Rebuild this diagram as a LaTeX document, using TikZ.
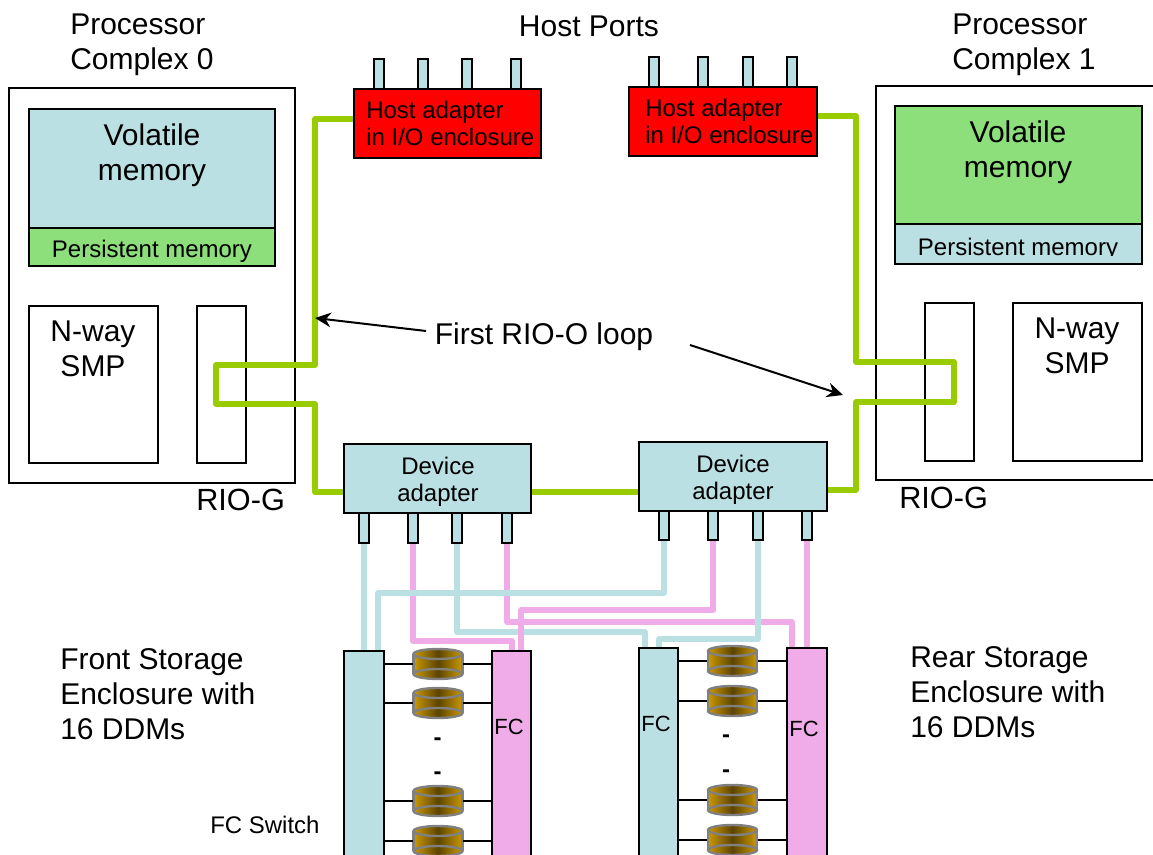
\documentclass[tikz,border=0pt]{standalone}
\usepackage{fontspec}
\setmainfont{Liberation Sans}
\usetikzlibrary{arrows.meta}
\definecolor{palecyan}{HTML}{BBE0E3}
\definecolor{softgreen}{HTML}{8CDF7A}
\definecolor{linkgreen}{HTML}{99CC00}
\definecolor{softpink}{HTML}{F0ACE8}
\definecolor{diskgold}{HTML}{CC9900}
\definecolor{diskdark}{HTML}{5C4400}
\newcommand{\bx}[7][]{%
  \pgfmathsetmacro{\bxw}{(#5-#3)*0.75}\pgfmathsetmacro{\bxh}{(#6-#4)*0.75}%
  \node[boxshape,fill=#7,minimum width=\bxw pt,minimum height=\bxh pt,#1] (#2) at ({(#3+#5)/2},{(#4+#6)/2}) {};}
\newcommand{\disk}[3]{%
  \node[inner sep=0pt,minimum width=37.5pt,minimum height=22.5pt] (#1) at (#2,#3) {};
  \begin{scope}[shift={(#2,#3)}]
    \path[diskshade] (-24.5,-10) -- (24.5,-10) -- (24.5,10) -- (-24.5,10) -- cycle;
    \draw[diskedge] (-24.5,-10) -- (-24.5,10) (24.5,-10) -- (24.5,10);
    \draw[diskedge,diskshade] (0,10) ellipse (24.5 and 5);
    \draw[diskedge,diskshade] (0,-10) ellipse (24.5 and 5);
  \end{scope}}
\tikzset{
  boxshape/.style={draw=black,line width=1.5pt,inner sep=0pt,rectangle},
  link/.style={draw=linkgreen,line width=3.9pt,line join=round},
  cablecyan/.style={draw=palecyan,line width=4pt,line join=round},
  cablepink/.style={draw=softpink,line width=4pt,line join=round},
  diskedge/.style={draw=black!50,line width=1.8pt},
  diskshade/.style={left color=diskgold,right color=diskgold,middle color=diskdark},
  bigtxt/.style={inner sep=0pt,font=\fontsize{22.5}{26.25}\selectfont},
  midtxt/.style={inner sep=0pt,font=\fontsize{18}{20.25}\selectfont},
  smalltxt/.style={inner sep=0pt,font=\fontsize{16.5}{20}\selectfont},
  dashtxt/.style={inner sep=0pt,font=\fontsize{18}{20}\selectfont\bfseries},
  tiedisk/.style={draw=black,line width=1.5pt},
  callout/.style={draw=black,line width=1.5pt,-{Stealth[length=12pt,width=11pt]}},
}
\begin{document}
\begin{tikzpicture}[x=0.75pt,y=-0.75pt]
\useasboundingbox (0,0) rectangle (1153,855);
\clip (0,0) rectangle (1153,855);
% processor complexes
\bx{pc0}{9}{88}{295}{483}{white}
\bx{pc1}{876}{86}{1170}{480}{white}
\bx{vm0}{29}{109}{275}{228}{palecyan}
\bx{pm0}{29}{228}{275}{266}{softgreen}
\bx{vm1}{895}{106}{1142}{224}{softgreen}
\bx{pm1}{895}{224}{1142}{264}{palecyan}
\bx{smp0}{29}{306}{158}{463}{white}
\bx{rio0}{197}{306}{246}{463}{white}
\bx{rio1}{925}{303}{974}{461}{white}
\bx{smp1}{1013}{303}{1142}{461}{white}
% host adapter ports
\bx{hp1}{374}{59}{384}{89}{palecyan}
\bx{hp2}{418}{59}{428}{89}{palecyan}
\bx{hp3}{462}{59}{472}{89}{palecyan}
\bx{hp4}{511}{59}{521}{89}{palecyan}
\bx{hq1}{649}{57}{659}{87}{palecyan}
\bx{hq2}{698}{57}{708}{87}{palecyan}
\bx{hq3}{743}{57}{753}{87}{palecyan}
\bx{hq4}{787}{57}{797}{87}{palecyan}
\bx{ha0}{354}{89}{541}{158}{red}
\bx{ha1}{629}{87}{817}{156}{red}
% device adapters and ports
\bx{da0}{344}{444}{531}{513}{palecyan}
\bx{da1}{639}{442}{827}{511}{palecyan}
\bx{dp1}{359}{513}{369}{543}{palecyan}
\bx{dp2}{408}{513}{418}{543}{palecyan}
\bx{dp3}{452}{513}{462}{543}{palecyan}
\bx{dp4}{502}{513}{512}{543}{palecyan}
\bx{dq1}{659}{511}{669}{540}{palecyan}
\bx{dq2}{708}{511}{718}{540}{palecyan}
\bx{dq3}{753}{511}{763}{540}{palecyan}
\bx{dq4}{802}{511}{812}{540}{palecyan}
% RIO loop
\coordinate (l1) at (315,365);
\coordinate (l2) at (216,404);
\coordinate (l3) at (315,492);
\draw[link] (ha0.west |- 0,119) -| (l1) -| (l2) -| (l3) -- (da0.west |- l3);
\draw[link] (da0.east |- l3) -- (da1.west |- l3);
\coordinate (r1) at (856,362);
\coordinate (r2) at (954,402);
\coordinate (r3) at (856,490);
\draw[link] (ha1.east |- 0,116) -| (r1) -| (r2) -| (r3) -- (da1.east |- r3);
% FC cables
\coordinate (t1) at (364,651);
\coordinate (t2) at (378,651);
\coordinate (t3) at (512,651);
\coordinate (t4) at (521,651);
\coordinate (t5) at (645,648);
\coordinate (t6) at (659,648);
\coordinate (t7) at (792,648);
\coordinate (t8) at (807,648);
\draw[cablecyan] (dp1.south) -- (t1);
\draw[cablepink] (dp2.south) -- ++(0,97) -| (t3);
\draw[cablepink] (dp4.south) -- ++(0,78) -| (t7);
\draw[cablecyan] (dp3.south) -- ++(0,88) -| (t5);
\draw[cablecyan] (dq1.south) -- ++(0,52) -| (t2);
\draw[cablepink] (dq2.south) -- ++(0,69) -| (t4);
\draw[cablecyan] (dq3.south) -- ++(0,98) -| (t6);
\draw[cablepink] (dq4.south) -- (t8);
% storage enclosures
\bx{se0}{344}{651}{384}{880}{palecyan}
\bx{fc0}{492}{651}{531}{880}{softpink}
\bx{se1}{639}{648}{678}{880}{palecyan}
\bx{fc1}{787}{648}{827}{880}{softpink}
% disks
\foreach \d/\yy in {a1/664,a2/703,a3/801,a4/841}{
  \disk{\d}{438}{\yy}
  \draw[tiedisk] (se0.east |- \d.west) -- (\d.west);
  \draw[tiedisk] (\d.east) -- (fc0.west |- \d.east);
}
\foreach \d/\yy in {b1/661,b2/701,b3/800,b4/840}{
  \disk{\d}{732.5}{\yy}
  \draw[tiedisk] (se1.east |- \d.west) -- (\d.west);
  \draw[tiedisk] (\d.east) -- (fc1.west |- \d.east);
}
% labels
\node[bigtxt,align=left,anchor=west] (t_pc0) at (70,45) {Processor\\Complex 0};
\node[bigtxt,align=left,anchor=west] (t_pc1) at (952,45) {Processor\\Complex 1};
\node[bigtxt] (t_hp) at (589,26) {Host Ports};
\node[bigtxt,align=center] (t_vm0) at (152,155) {Volatile\\memory};
\node[bigtxt,align=center] (t_vm1) at (1018,152) {Volatile\\memory};
\node[midtxt] (t_pm0) at (152,251) {Persistent memory};
\begin{scope}
  \clip (895,224) rectangle (1142,256);
  \node[midtxt] (t_pm1) at (1018,249) {Persistent memory};
\end{scope}
\node[bigtxt,align=center] (t_smp0) at (93,349) {N-way\\SMP};
\node[bigtxt,align=center] (t_smp1) at (1077,346) {N-way\\SMP};
\node[midtxt,align=left,anchor=west] (t_ha0) at (366,123) {Host adapter\\in I/O enclosure};
\node[midtxt,align=left,anchor=west] (t_ha1) at (645,121) {Host adapter\\in I/O enclosure};
\node[bigtxt] (t_loop) at (544,337) {First RIO-O loop};
\node[bigtxt,font=\fontsize{23}{27}\selectfont,anchor=west] (t_rio0) at (196,500) {RIO-G};
\node[bigtxt,font=\fontsize{23}{27}\selectfont,anchor=west] (t_rio1) at (899,498) {RIO-G};
\node[midtxt,align=center] (t_da0) at (438,482) {Device\\adapter};
\node[midtxt,align=center] (t_da1) at (733,480) {Device\\adapter};
\node[bigtxt,align=left,anchor=west] (t_fs) at (60,694) {Front Storage\\Enclosure with\\16 DDMs};
\node[bigtxt,align=left,anchor=west] (t_rs) at (910,692) {Rear Storage\\Enclosure with\\16 DDMs};
\node[midtxt,anchor=west] (t_sw) at (210,825) {FC Switch};
\node[smalltxt] (t_fc0) at (509,727) {FC};
\node[smalltxt] (t_fc1) at (656,724) {FC};
\node[smalltxt] (t_fc2) at (804,729) {FC};
\node[dashtxt] (t_d1) at (437.5,742) {-};
\node[dashtxt] (t_d2) at (437.5,776) {-};
\node[dashtxt] (t_d3) at (726,739) {-};
\node[dashtxt] (t_d4) at (726,774) {-};
% callout arrows
\coordinate (c0) at (426,331);
\coordinate (c1) at (315,318);
\coordinate (c2) at (690,345);
\coordinate (c3) at (843,395);
\draw[callout] (c0) -- (c1);
\draw[callout] (c2) -- (c3);
\end{tikzpicture}
\end{document}
